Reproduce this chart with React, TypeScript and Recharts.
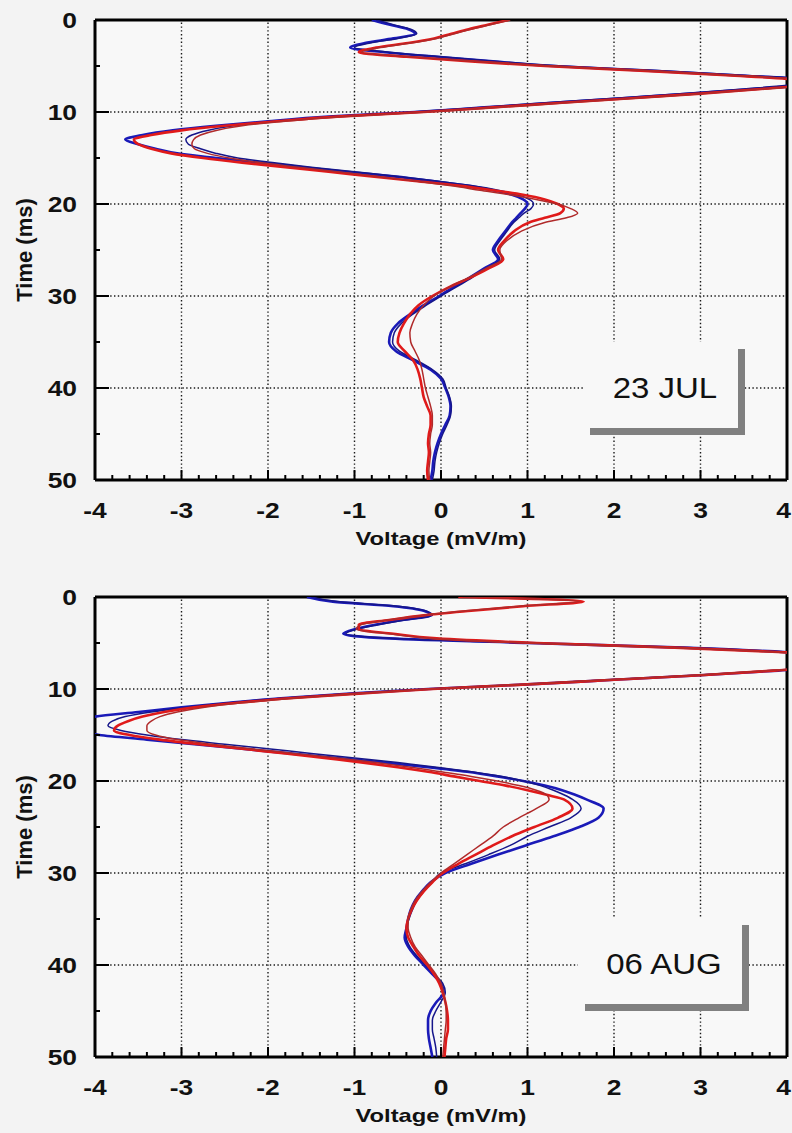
import { ScatterChart, Scatter, XAxis, YAxis, ReferenceLine, CartesianGrid, Label } from "recharts";

// sample times (ms), shared by every trace of both panels
const timeMs = [
  0, 0.5, 1, 1.5, 2, 2.5, 3, 3.5, 4, 4.5,
  5, 5.5, 6, 6.5, 7, 7.5, 8, 8.5, 9, 9.5,
  10, 10.5, 11, 11.5, 12, 12.5, 13, 13.5, 14, 14.5,
  15, 15.5, 16, 16.5, 17, 17.5, 18, 18.5, 19, 19.5,
  20, 20.5, 21, 21.5, 22,
  23, 24, 25, 26, 27, 28, 29, 30, 31, 32,
  33, 34, 35, 36, 37, 38, 39, 40, 41, 42,
  43, 44, 45, 46, 47, 48, 49, 50,
];

// 23 JUL, voltage (mV/m)
const julBlueThick = [
  -0.8, -0.6, -0.38, -0.3, -0.55, -0.88, -1.05, -0.65, -0.05, 0.6,
  1.3, 2.4, 3.4, 4.2, 4.2, 3.6, 2.9, 2.1, 1.3, 0.5,
  -0.3, -1.3, -2.0, -2.6, -3.1, -3.45, -3.65, -3.5, -3.3, -3.05,
  -2.6, -2.1, -1.6, -1.1, -0.55, -0.1, 0.3, 0.6, 0.82, 0.95,
  1.0, 0.97, 0.92, 0.87, 0.82,
  0.74, 0.66, 0.6, 0.66, 0.5, 0.33, 0.15, -0.02, -0.2, -0.36,
  -0.5, -0.58, -0.6, -0.52, -0.32, -0.12, 0.0, 0.05, 0.09, 0.11,
  0.1, 0.05, 0.0, -0.04, -0.07, -0.09, -0.1, -0.12,
];
const julBlueThin = [
  -0.75, -0.55, -0.35, -0.28, -0.5, -0.82, -1.0, -0.6, 0.0, 0.65,
  1.4, 2.5, 3.5, 4.3, 4.1, 3.5, 2.8, 2.0, 1.2, 0.45,
  -0.35, -1.25, -1.9, -2.4, -2.7, -2.88, -2.95, -2.92, -2.78, -2.6,
  -2.35, -1.95, -1.5, -1.0, -0.5, -0.05, 0.35, 0.66, 0.88, 1.02,
  1.07, 1.04, 0.96, 0.9, 0.84,
  0.76, 0.68, 0.62, 0.68, 0.52, 0.36, 0.18, 0.0, -0.17, -0.33,
  -0.46, -0.54, -0.56, -0.48, -0.28, -0.1, 0.02, 0.06, 0.1, 0.12,
  0.11, 0.07, 0.02, -0.02, -0.05, -0.07, -0.08, -0.1,
];
const julRedThick = [
  0.78, 0.55, 0.32, 0.12, -0.08, -0.38, -0.75, -0.95, -0.4, 0.35,
  1.2, 2.3, 3.3, 4.1, 4.25, 3.7, 3.0, 2.2, 1.4, 0.6,
  -0.2, -1.2, -1.9, -2.5, -3.0, -3.35, -3.55, -3.5, -3.35, -3.12,
  -2.75, -2.3, -1.8, -1.3, -0.8, -0.3, 0.2, 0.6, 0.95, 1.2,
  1.35, 1.42, 1.38, 1.2, 1.02,
  0.84, 0.73, 0.66, 0.72, 0.55, 0.34, 0.1, -0.1, -0.26, -0.36,
  -0.43, -0.48, -0.5, -0.42, -0.32, -0.27, -0.24, -0.22, -0.2, -0.16,
  -0.12, -0.12, -0.14, -0.15, -0.14, -0.15, -0.16, -0.15,
];
const julRedThin = [
  0.8, 0.58, 0.35, 0.15, -0.05, -0.35, -0.7, -0.92, -0.35, 0.4,
  1.25, 2.35, 3.35, 4.15, 4.3, 3.75, 3.05, 2.25, 1.45, 0.65,
  -0.15, -1.1, -1.8, -2.3, -2.6, -2.78, -2.86, -2.88, -2.85, -2.7,
  -2.45, -2.1, -1.65, -1.2, -0.75, -0.3, 0.1, 0.45, 0.8, 1.1,
  1.35, 1.5, 1.58, 1.45, 1.2,
  0.92, 0.76, 0.68, 0.7, 0.52, 0.32, 0.1, -0.08, -0.2, -0.28,
  -0.33, -0.36, -0.35, -0.3, -0.25, -0.22, -0.2, -0.18, -0.15, -0.12,
  -0.1, -0.1, -0.12, -0.13, -0.12, -0.13, -0.14, -0.13,
];

// 06 AUG, voltage (mV/m)
const augBlueThick = [
  -1.55, -1.25, -0.55, -0.2, -0.12, -0.45, -0.75, -1.0, -1.13, -0.6,
  1.0, 2.8, 4.0, 4.8, 5.1, 4.7, 3.9, 3.0, 2.0, 1.0,
  -0.15, -1.05, -1.85, -2.45, -3.0, -3.5, -4.0, -4.2, -4.3, -4.2,
  -3.95, -3.4, -2.85, -2.3, -1.75, -1.2, -0.65, -0.15, 0.3, 0.65,
  0.95, 1.2, 1.4, 1.55, 1.68,
  1.88, 1.82, 1.6, 1.3, 0.98, 0.66, 0.35, 0.05, -0.12, -0.22,
  -0.3, -0.35, -0.38, -0.4, -0.42, -0.38, -0.3, -0.2, -0.1, 0.0,
  0.03, -0.05, -0.12, -0.15, -0.15, -0.14, -0.12, -0.1,
];
const augBlueThin = [
  -1.5, -1.2, -0.5, -0.18, -0.1, -0.42, -0.72, -0.98, -1.1, -0.55,
  1.05, 2.85, 4.05, 4.85, 5.05, 4.65, 3.85, 2.95, 1.95, 0.95,
  -0.15, -1.05, -1.85, -2.45, -2.95, -3.35, -3.65, -3.8, -3.85, -3.7,
  -3.4, -3.0, -2.5, -2.0, -1.5, -1.0, -0.5, -0.05, 0.35, 0.7,
  0.95, 1.15, 1.3, 1.42, 1.52,
  1.62, 1.5, 1.25, 1.0, 0.8, 0.55, 0.28, 0.0, -0.1, -0.2,
  -0.28, -0.33, -0.37, -0.4, -0.4, -0.36, -0.28, -0.18, -0.08, 0.02,
  0.05, 0.0, -0.06, -0.1, -0.1, -0.08, -0.06, -0.05,
];
const augRedThick = [
  0.2, 1.65, 0.95, 0.35, -0.2, -0.6, -0.95, -0.95, -0.55, -0.05,
  1.1, 2.7, 3.95, 4.75, 5.0, 4.65, 3.85, 3.0, 2.0, 1.0,
  -0.1, -0.95, -1.75, -2.35, -2.85, -3.2, -3.45, -3.62, -3.74, -3.78,
  -3.6, -3.25, -2.8, -2.3, -1.8, -1.35, -0.9, -0.5, -0.15, 0.15,
  0.45, 0.75, 1.0, 1.22, 1.42,
  1.52, 1.35, 1.08, 0.82, 0.6, 0.4, 0.2, 0.02, -0.1, -0.2,
  -0.28, -0.34, -0.38, -0.4, -0.38, -0.32, -0.25, -0.16, -0.08, -0.02,
  0.02, 0.05, 0.07, 0.08, 0.08, 0.06, 0.05, 0.04,
];
const augRedThin = [
  0.25, 1.6, 0.9, 0.3, -0.22, -0.62, -0.92, -0.98, -0.6, -0.1,
  1.05, 2.65, 3.9, 4.7, 4.95, 4.6, 3.8, 2.95, 1.95, 0.95,
  -0.1, -0.95, -1.7, -2.3, -2.75, -3.05, -3.25, -3.35, -3.4, -3.4,
  -3.3, -3.05, -2.65, -2.2, -1.7, -1.2, -0.75, -0.35, 0.0, 0.35,
  0.65, 0.9, 1.1, 1.22, 1.25,
  1.1, 0.9, 0.72, 0.6, 0.45, 0.3, 0.15, 0.0, -0.12, -0.22,
  -0.3, -0.35, -0.38, -0.38, -0.35, -0.3, -0.22, -0.14, -0.06, 0.0,
  0.03, 0.05, 0.06, 0.06, 0.05, 0.04, 0.03, 0.02,
];

const voltMajor = [-4, -3, -2, -1, 0, 1, 2, 3, 4];
const timeMajor = [0, 10, 20, 30, 40, 50];
// minor ticks: 0.2 mV/m and 5 ms
const voltTicks = Array.from({ length: 41 }, (_, i) => Math.round((-4 + i * 0.2) * 10) / 10);
const timeTicks = [0, 5, 10, 15, 20, 25, 30, 35, 40, 45, 50];

const FONT = "'Liberation Sans', Arial, sans-serif";
const BLUE = "#1a1ab8";
const NAVY = "#16168a";
const RED = "#e01a1a";
const BROWN = "#b02a2a";
const FRAME = { stroke: "#000", strokeWidth: 3 };

const toPoints = (volts: number[]) => timeMs.map((t, i) => ({ t, v: volts[i] }));

function VoltTick({ x, y, payload }: any) {
  const v = payload.value;
  const major = Math.abs(v - Math.round(v)) < 1e-6;
  // the last label sits against the page edge, so it is right-aligned there
  const last = v === voltMajor[voltMajor.length - 1];
  return (
    <g>
      <line x1={x} x2={x} y1={y} y2={y - (major ? 10 : 5)} stroke="#000" strokeWidth={2} />
      {major && (
        <text
          transform={`translate(${last ? x + 4 : x},${y + 38}) scale(1.2,1)`}
          textAnchor={last ? "end" : "middle"}
          fontFamily={FONT}
          fontWeight="bold"
          fontSize={22}
          fill="#111"
        >
          {Math.round(v)}
        </text>
      )}
    </g>
  );
}

function TimeTick({ x, y, payload }: any) {
  const major = payload.value % 10 === 0;
  return (
    <g>
      <line x1={x} x2={x + (major ? 14 : 5)} y1={y} y2={y} stroke="#000" strokeWidth={2} />
      {major && (
        <text
          transform={`translate(${x - 18},${y + 8}) scale(1.2,1)`}
          textAnchor="end"
          fontFamily={FONT}
          fontWeight="bold"
          fontSize={22}
          fill="#111"
        >
          {payload.value}
        </text>
      )}
    </g>
  );
}

type Trace = { volts: number[]; color: string; width: number };

function Panel({ traces, top, tag, box }: { traces: Trace[]; top: number; tag: string; box: { left: number; top: number; width: number; height: number } }) {
  return (
    <>
      <div style={{ position: "absolute", left: 0, top, width: 792, height: 556 }}>
        <ScatterChart width={792} height={556} margin={{ top: 19, right: 4, bottom: 75, left: 0 }}>
          <CartesianGrid horizontal={false} vertical={false} fill="#f8f8f8" />
          <XAxis
            type="number"
            dataKey="v"
            domain={[-4, 4]}
            ticks={voltTicks}
            interval={0}
            allowDataOverflow
            height={1}
            tickSize={0}
            tickMargin={0}
            tickLine={false}
            tick={<VoltTick />}
            axisLine={FRAME}
          >
            <Label
              content={({ viewBox }: any) => (
                <text
                  transform={`translate(${viewBox.x + viewBox.width / 2},${viewBox.y + 65}) scale(1.25,1)`}
                  textAnchor="middle"
                  fontFamily={FONT}
                  fontWeight="bold"
                  fontSize={19}
                  fill="#111"
                >
                  Voltage (mV/m)
                </text>
              )}
            />
          </XAxis>
          <XAxis xAxisId="frameTop" orientation="top" type="number" domain={[-4, 4]} height={1} tick={false} tickLine={false} axisLine={FRAME} />
          <YAxis
            type="number"
            dataKey="t"
            domain={[0, 50]}
            reversed
            ticks={timeTicks}
            interval={0}
            allowDataOverflow
            width={95}
            tickSize={0}
            tickMargin={0}
            tickLine={false}
            tick={<TimeTick />}
            axisLine={FRAME}
          >
            <Label
              content={({ viewBox }: any) => (
                <text
                  transform={`translate(24,${viewBox.y + viewBox.height / 2}) rotate(-90)`}
                  textAnchor="middle"
                  dominantBaseline="central"
                  fontFamily={FONT}
                  fontWeight="bold"
                  fontSize={22}
                  fill="#111"
                >
                  Time (ms)
                </text>
              )}
            />
          </YAxis>
          <YAxis yAxisId="frameRight" orientation="right" type="number" domain={[0, 50]} width={1} tick={false} tickLine={false} axisLine={FRAME} />
          {voltMajor.slice(1, -1).map((v) => (
            <ReferenceLine key={`x${v}`} x={v} stroke="#1a1a1a" strokeWidth={1.4} strokeDasharray="1.4 2.4" />
          ))}
          {timeMajor.slice(1, -1).map((t) => (
            <ReferenceLine key={`y${t}`} y={t} stroke="#1a1a1a" strokeWidth={1.4} strokeDasharray="1.4 2.4" />
          ))}
          {traces.map((tr, i) => (
            <Scatter
              key={i}
              data={toPoints(tr.volts)}
              line={{ stroke: tr.color, strokeWidth: tr.width }}
              lineJointType="monotoneY"
              shape={() => <g />}
              isAnimationActive={false}
            />
          ))}
        </ScatterChart>
      </div>
      <div
        style={{
          position: "absolute",
          left: box.left,
          top: box.top,
          width: box.width,
          height: box.height,
          background: "#f8f8f8",
          boxShadow: "7px 7px 0 #808080",
          display: "flex",
          alignItems: "center",
          justifyContent: "center",
          fontFamily: FONT,
          fontSize: 30,
          color: "#111",
        }}
      >
        <span style={{ display: "inline-block", transform: "scaleX(1.1)", paddingLeft: 8, paddingTop: 6 }}>{tag}</span>
      </div>
    </>
  );
}

const julTraces: Trace[] = [
  { volts: julBlueThick, color: BLUE, width: 2.6 },
  { volts: julBlueThin, color: NAVY, width: 1.5 },
  { volts: julRedThick, color: RED, width: 2.6 },
  { volts: julRedThin, color: BROWN, width: 1.5 },
];
const augTraces: Trace[] = [
  { volts: augBlueThick, color: BLUE, width: 2.6 },
  { volts: augBlueThin, color: NAVY, width: 1.5 },
  { volts: augRedThick, color: RED, width: 2.6 },
  { volts: augRedThin, color: BROWN, width: 1.5 },
];

export default function App() {
  return (
    <div style={{ position: "absolute", left: 0, top: 0, width: 792, height: 1133, background: "#f3f3f3", overflow: "hidden" }}>
      <Panel traces={julTraces} top={0} tag="23 JUL" box={{ left: 583, top: 342, width: 155, height: 86 }} />
      <Panel traces={augTraces} top={577} tag="06 AUG" box={{ left: 578, top: 918, width: 164, height: 86 }} />
    </div>
  );
}
